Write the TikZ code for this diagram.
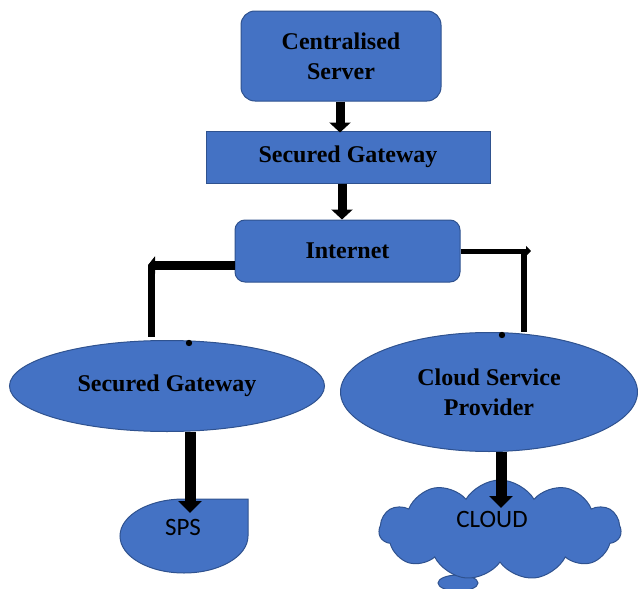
\documentclass[tikz,border=0pt]{standalone}
\usepackage{fontspec}
\setmainfont{Liberation Serif}
\newfontfamily\sansf{Carlito}
\usetikzlibrary{arrows.meta,shapes.geometric,shapes.symbols}
\definecolor{boxblue}{HTML}{4472C4}
\definecolor{boxedge}{HTML}{2F528F}
\begin{document}
\begin{tikzpicture}[x=1pt,y=-1pt,
  blk/.style={fill=boxblue, draw=boxedge, line width=1pt, font=\bfseries\fontsize{24}{30}\selectfont, align=center, inner sep=0pt},
  rbox/.style={blk, rectangle, rounded corners=14pt},
  sqbox/.style={blk, rectangle},
  ell/.style={blk, ellipse},
  shp/.style={fill=boxblue, draw=boxedge, line width=1pt},
  lbl/.style={font=\sansf\fontsize{25}{30}\selectfont, inner sep=0pt},
  fatarrow/.style={line width=9pt, -{Triangle[width=21pt,length=10pt]}},
  bigarrow/.style={line width=11pt, -{Triangle[width=23pt,length=12pt]}}
]
\useasboundingbox (0,0) rectangle (638,589);
\clip (0,0) rectangle (638,589);

% boxes
\node[rbox, minimum width=200pt, minimum height=90pt] (cs) at (341,56) {Centralised\\Server};
\node[sqbox, minimum width=284pt, minimum height=52pt] (sg) at (348,157) {Secured Gateway};
\node[rbox, rounded corners=10pt, minimum width=225pt, minimum height=62pt] (inet) at (347.5,251) {Internet};
\node[ell, minimum width=315pt, minimum height=91pt] (lg) at (167,386) {Secured Gateway};
\node[ell, minimum width=297pt, minimum height=119pt] (csp) at (489,392) {Cloud Service\\Provider};

% SPS shape
\draw[shp] (184,499) -- (248,499) -- (248,536)
  arc[start angle=0, end angle=-270, x radius=64pt, y radius=37pt] -- cycle;
\node[lbl] (sps) at (183,527) {SPS};

% cloud
\draw[shp] (458,583) ellipse [x radius=20pt, y radius=8pt];
\node[cloud, cloud puffs=11, cloud puff arc=118, aspect=2.4, shp,
      minimum width=242pt, minimum height=100pt, inner sep=0pt] (cloud) at (500,530) {};
\node[lbl] (cloudtxt) at (492,519) {CLOUD};

% vertical arrows
\draw[fatarrow] ([xshift=-1pt]cs.south) -- ([xshift=-1pt,yshift=-2pt]cs.south |- sg.north);
\draw[fatarrow] ([xshift=-6pt]sg.south) -- ([xshift=-6pt]sg.south |- inet.north);

% left elbow connector
\coordinate (lcorner) at (148,265);
\coordinate (lfoot) at (151,337);
\draw[line width=9pt, -{Triangle[width=17pt,length=7pt]}] ([yshift=-14pt]inet.west) -- (lcorner);
\draw[line width=7pt] (lfoot |- lcorner) -- (lfoot);
\fill (189,343) circle (3.2pt);

% right elbow connector
\coordinate (rcorner) at (531,251);
\coordinate (rfoot) at (524,332);
\draw[line width=5pt, -{Triangle[width=10pt,length=5pt]}] (inet.east) -- (rcorner);
\draw[line width=6pt] ([yshift=2pt]rfoot |- rcorner) -- (rfoot);
\fill (502,335) circle (3.2pt);

% arrows to SPS and CLOUD
\coordinate (spstip) at (190,513);
\coordinate (cloudtip) at (501,508);
\draw[bigarrow] (lg.south -| spstip) -- (spstip);
\draw[bigarrow] (csp.south -| cloudtip) -- (cloudtip);
\end{tikzpicture}
\end{document}
